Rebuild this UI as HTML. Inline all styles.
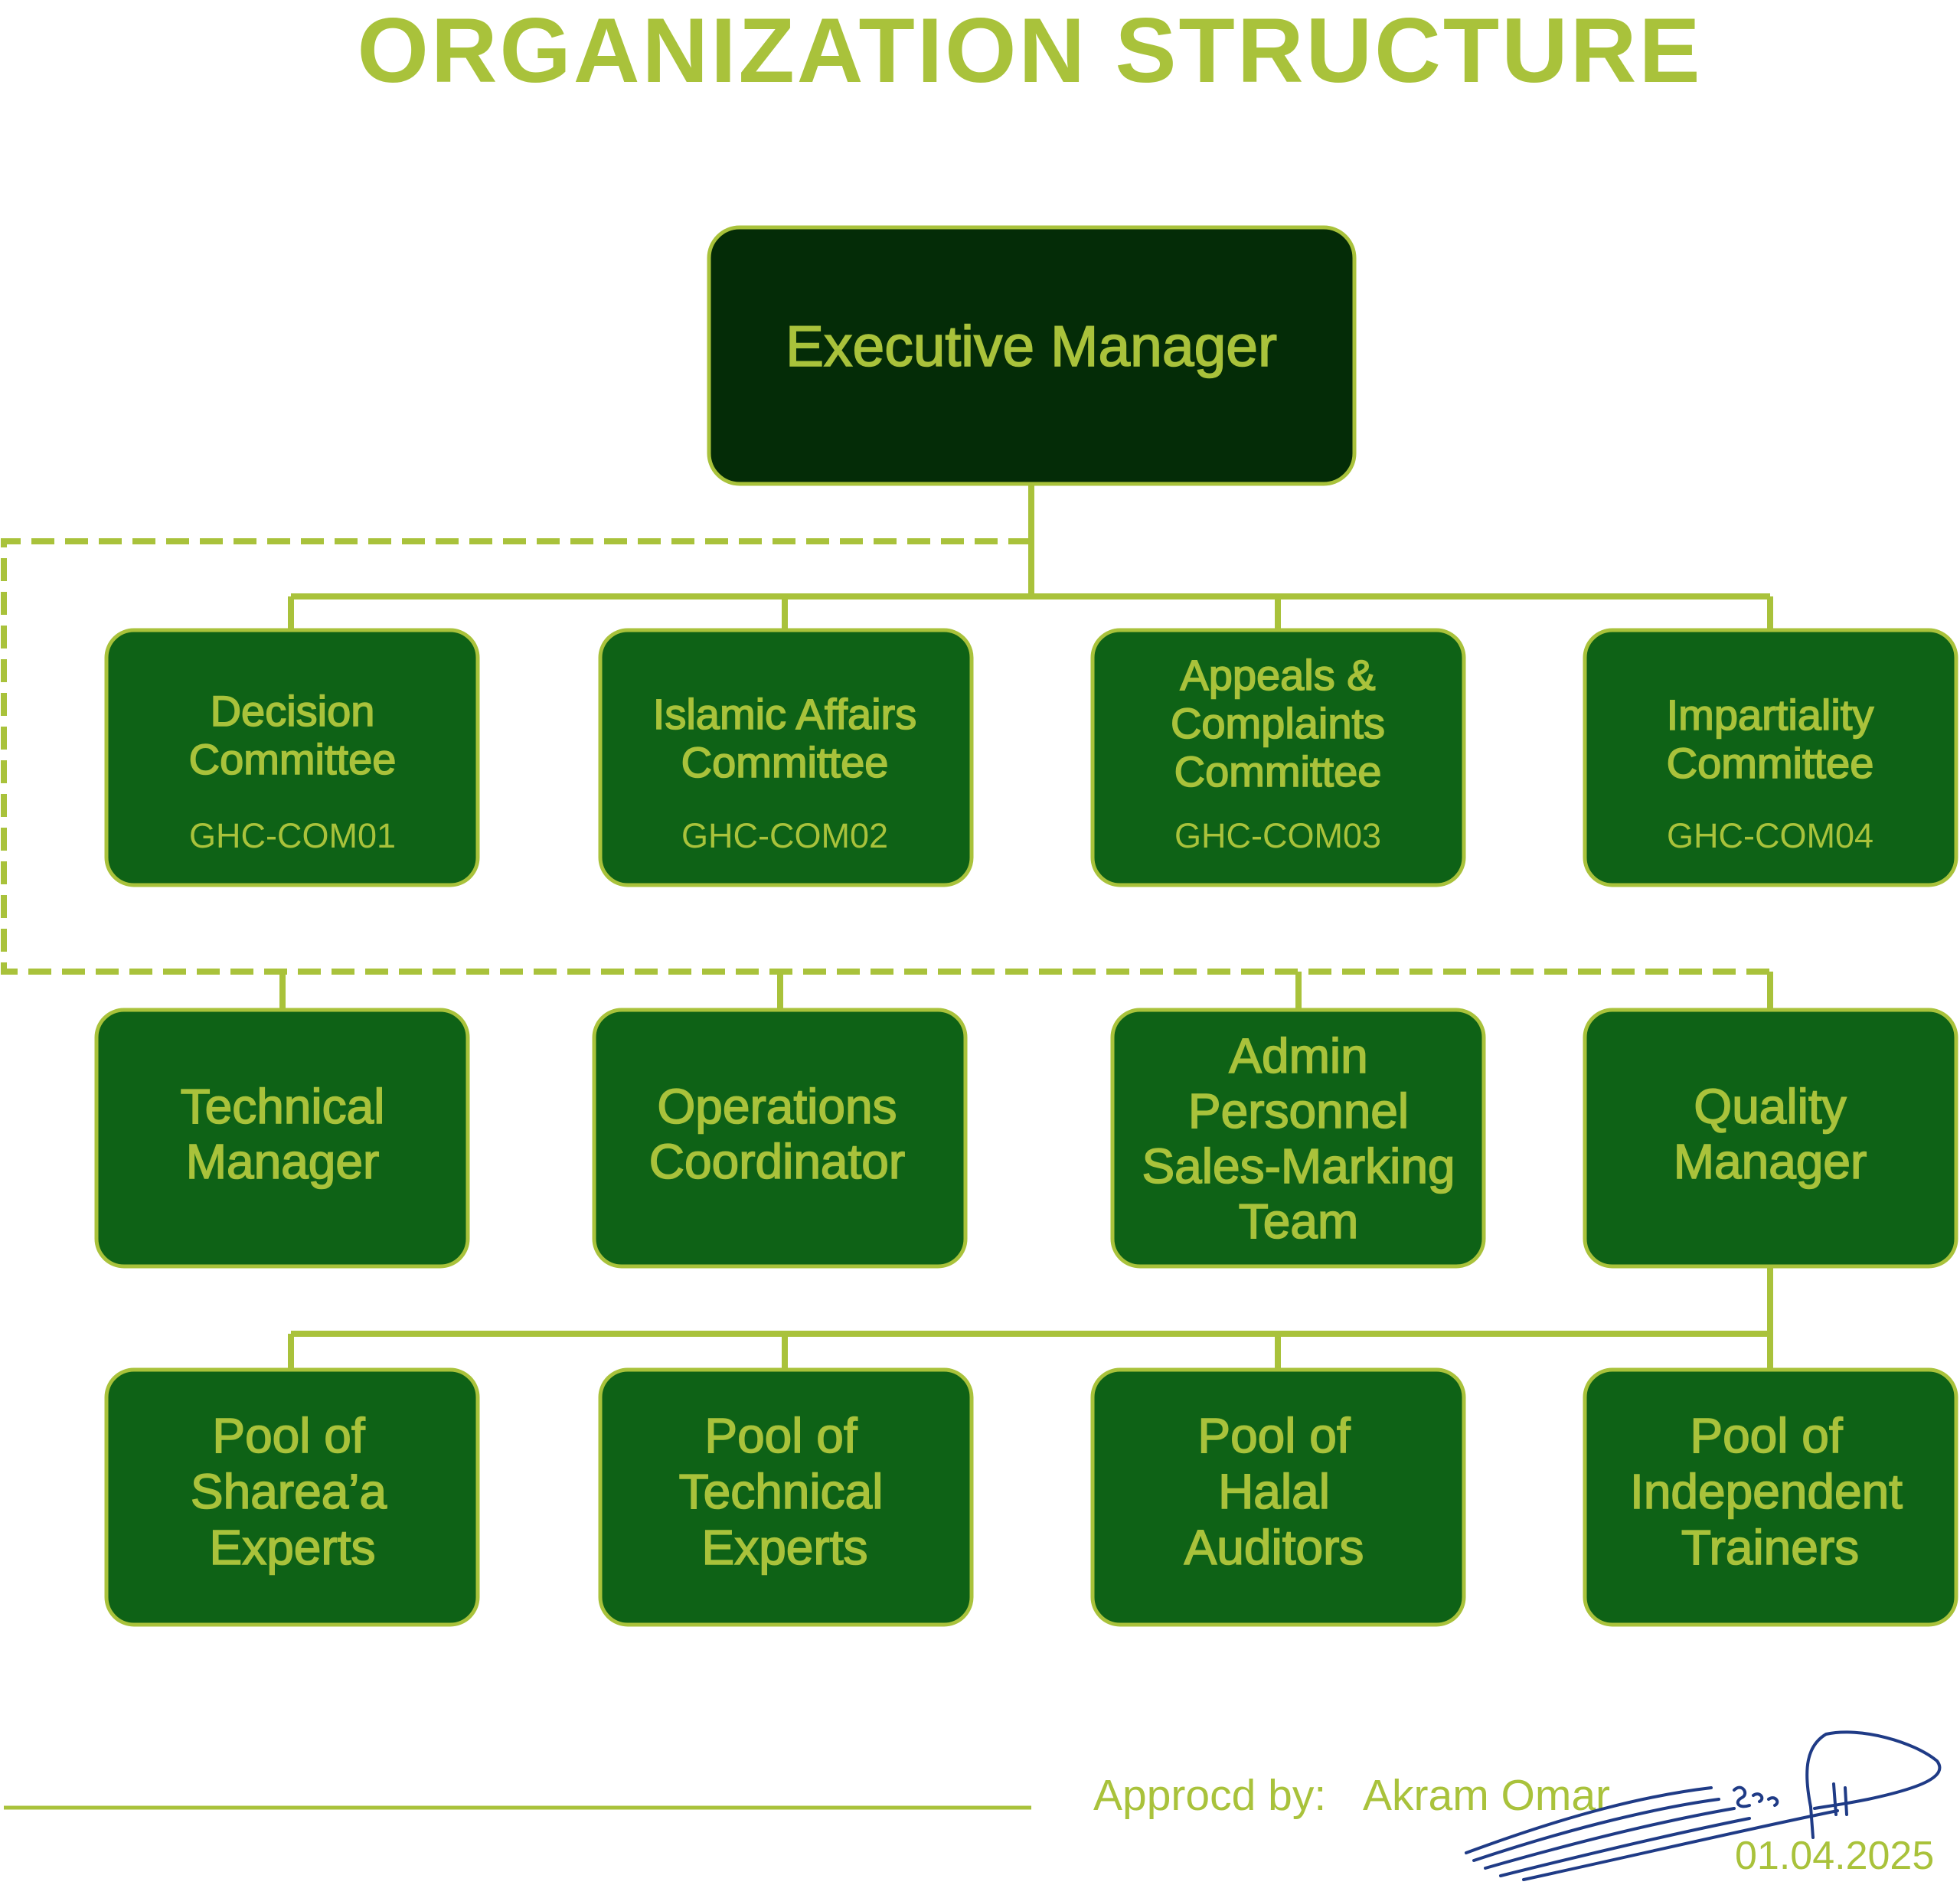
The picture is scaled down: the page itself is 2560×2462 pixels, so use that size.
<!DOCTYPE html>
<html><head><meta charset="utf-8"><style>
html,body{margin:0;padding:0;background:#fff;}
svg{display:block;}
text{font-family:"Liberation Sans",sans-serif;fill:#a9c23b;}
.t{stroke:#a9c23b;stroke-width:1.6;}
</style></head><body>
<svg width="2560" height="2462" viewBox="0 0 2560 2462" xmlns="http://www.w3.org/2000/svg">
<text x="1345" y="107" text-anchor="middle" font-size="120" font-weight="bold" letter-spacing="3">ORGANIZATION STRUCTURE</text>

<g stroke="#a9c23b" stroke-width="8" fill="none">
<line x1="1347" y1="632" x2="1347" y2="779"/>
<line x1="380" y1="779" x2="2312" y2="779"/>
<line x1="380" y1="779" x2="380" y2="823"/>
<line x1="1025" y1="779" x2="1025" y2="823"/>
<line x1="1669" y1="779" x2="1669" y2="823"/>
<line x1="2312" y1="779" x2="2312" y2="823"/>
<polyline points="1347,707 5,707 5,1269 2312,1269" stroke-dasharray="30,14"/>
<line x1="369" y1="1269" x2="369" y2="1319"/>
<line x1="1019" y1="1269" x2="1019" y2="1319"/>
<line x1="1696" y1="1269" x2="1696" y2="1319"/>
<line x1="2312" y1="1269" x2="2312" y2="1319"/>
<line x1="2312" y1="1654" x2="2312" y2="1789"/>
<line x1="380" y1="1742" x2="2312" y2="1742"/>
<line x1="380" y1="1742" x2="380" y2="1789"/>
<line x1="1025" y1="1742" x2="1025" y2="1789"/>
<line x1="1669" y1="1742" x2="1669" y2="1789"/>
<line x1="5" y1="2361" x2="1347" y2="2361" stroke-width="5"/>
</g>

<g stroke="#a9c23b" stroke-width="5">
<rect x="926" y="297" width="843" height="335" rx="40" fill="#042c07"/>
<g fill="#0e6216">
<rect x="139" y="823" width="485" height="333" rx="36"/>
<rect x="784" y="823" width="485" height="333" rx="36"/>
<rect x="1427" y="823" width="485" height="333" rx="36"/>
<rect x="2070" y="823" width="485" height="333" rx="36"/>
<rect x="126" y="1319" width="485" height="335" rx="36"/>
<rect x="776" y="1319" width="485" height="335" rx="36"/>
<rect x="1453" y="1319" width="485" height="335" rx="36"/>
<rect x="2070" y="1319" width="485" height="335" rx="36"/>
<rect x="139" y="1789" width="485" height="333" rx="36"/>
<rect x="784" y="1789" width="485" height="333" rx="36"/>
<rect x="1427" y="1789" width="485" height="333" rx="36"/>
<rect x="2070" y="1789" width="485" height="333" rx="36"/>
</g></g>

<text class="t" x="1347" y="478" text-anchor="middle" font-size="75">Executive Manager</text>

<g class="t" text-anchor="middle" font-size="56">
<text x="382" y="948">Decision</text><text x="382" y="1011">Committee</text>
<text x="1025" y="952">Islamic Affairs</text><text x="1025" y="1015">Committee</text>
<text x="1669" y="901">Appeals &amp;</text><text x="1669" y="964">Complaints</text><text x="1669" y="1027">Committee</text>
<text x="2312" y="953">Impartiality</text><text x="2312" y="1016">Committee</text>
</g>
<g text-anchor="middle" font-size="45">
<text x="382" y="1107">GHC-COM01</text>
<text x="1025" y="1107">GHC-COM02</text>
<text x="1669" y="1107">GHC-COM03</text>
<text x="2312" y="1107">GHC-COM04</text>
</g>
<g class="t" text-anchor="middle" font-size="64">
<text x="369" y="1467">Technical</text><text x="369" y="1539">Manager</text>
<text x="1015" y="1467">Operations</text><text x="1015" y="1539">Coordinator</text>
<text x="1696" y="1401">Admin</text><text x="1696" y="1473">Personnel</text><text x="1696" y="1545">Sales-Marking</text><text x="1696" y="1617">Team</text>
<text x="2312" y="1467">Quality</text><text x="2312" y="1539">Manager</text>
<text x="377" y="1897">Pool of</text><text x="377" y="1970">Sharea’a</text><text x="382" y="2043">Experts</text>
<text x="1020" y="1897">Pool of</text><text x="1020" y="1970">Technical</text><text x="1025" y="2043">Experts</text>
<text x="1664" y="1897">Pool of</text><text x="1664" y="1970">Halal</text><text x="1664" y="2043">Auditors</text>
<text x="2307" y="1897">Pool of</text><text x="2307" y="1970">Independent</text><text x="2312" y="2043">Trainers</text>
</g>

<text x="1428" y="2364" font-size="57">Approcd by:</text>
<text x="1780" y="2364" font-size="57">Akram Omar</text>
<text x="2266" y="2441" font-size="52">01.04.2025</text>

<g stroke="#1f3b86" stroke-width="4" fill="none" stroke-linecap="round">
<path d="M1915,2420 C2050,2370 2150,2345 2235,2335"/>
<path d="M1925,2430 C2060,2385 2170,2360 2245,2350"/>
<path d="M1940,2440 C2080,2400 2190,2375 2265,2362"/>
<path d="M1960,2450 C2100,2415 2210,2390 2285,2375"/>
<path d="M1990,2455 C2150,2420 2300,2385 2400,2365"/>
<path d="M2365,2360 C2355,2310 2360,2280 2385,2265 C2430,2255 2500,2275 2530,2300 C2545,2320 2510,2335 2440,2350 C2400,2358 2380,2360 2370,2362"/>
<path d="M2365,2360 L2368,2400"/>
<path d="M2395,2330 L2398,2370"/>
<path d="M2410,2335 L2412,2370"/>
<path d="M2265,2338 c10,-10 20,5 10,10 c-10,5 -5,15 10,10"/>
<path d="M2290,2345 c8,-6 16,4 8,8"/>
<path d="M2310,2350 c8,-6 16,4 8,8"/>
</g>
</svg>
</body></html>
